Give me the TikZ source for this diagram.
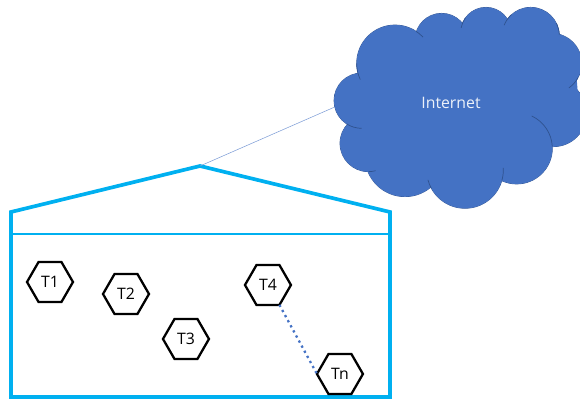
\documentclass[tikz,border=0pt]{standalone}
\usepackage{fontspec}
\setmainfont{Open Sans}
\usepackage{tikz}
\usetikzlibrary{shapes.geometric,positioning}
\definecolor{cloudblue}{HTML}{4472C4}
\definecolor{cloudedge}{HTML}{2F528F}
\definecolor{wallcyan}{HTML}{00B0F0}

\begin{document}
\begin{tikzpicture}[
    x=0.02cm, y=-0.02cm,
    tenant/.style={regular polygon, regular polygon sides=6, draw=black, line width=1.3pt, minimum size=0.92cm, inner sep=0pt, outer sep=0pt, font=\fontsize{9}{10}\selectfont},
    wall/.style={draw=wallcyan, line width=2.1pt},
    cloudarc/.style={draw=cloudedge, line width=0.4pt}
]
\path[use as bounding box] (0,0) rectangle (580,398);

% Cloud
\begin{scope}[shift={(320,0)}, x=0.00667cm, y=-0.00667cm]
\foreach \cx/\cy/\cr in {225/190/115, 365/120/80, 498/98/76, 632/108/86, 695/190/90, 700/340/100, 590/445/107, 435/510/115, 255/470/120, 145/430/85, 125/302/83}
    \draw[cloudarc] (\cx,\cy) circle[radius=\cr];
\foreach \cx/\cy/\cr in {225/190/115, 365/120/80, 498/98/76, 632/108/86, 695/190/90, 700/340/100, 590/445/107, 435/510/115, 255/470/120, 145/430/85, 125/302/83}
    \fill[cloudblue] (\cx,\cy) circle[radius=\cr];
\fill[cloudblue] (120,235) -- (85,375) -- (150,505) -- (330,560) -- (545,530) -- (695,435) -- (775,300) -- (770,235) -- (712,105) -- (555,72) -- (432,80) -- (295,95) -- cycle;
% Folds
\foreach \cx/\cy/\cr/\sa/\ea in {225/190/115/180/155, 225/190/115/-57/-43, 498/98/76/216/191, 632/108/86/228/202, 632/108/86/-27/-3, 695/190/90/28/55, 590/445/107/-65/-3, 435/510/115/-3/16, 435/510/115/151/165, 145/430/85/75/90, 125/302/83/123/90}
    \draw[cloudarc] (\cx,\cy) ++(\sa:\cr) arc[start angle=\sa, end angle=\ea, radius=\cr];
\coordinate (cloudL) at (42,322);
\end{scope}
\node[text=white!90!cloudblue, font=\fontsize{9}{10}\selectfont] (internet) at (451,103) {Internet};

% House
\coordinate (eaveL) at (11,212);
\coordinate (roof) at (200,166);
\coordinate (eaveR) at (390,212);
\coordinate (floorL) at (11,397);
\coordinate (floorR) at (390,397);
\coordinate (beamL) at (11,234);
\coordinate (beamR) at (390,234);
\draw[wall] (floorL) -- (eaveL) -- (roof) -- (eaveR) -- (floorR) -- cycle;
\draw[wall, line width=1.4pt] (beamL) -- (beamR);

% Uplink
\draw[cloudblue!70, line width=0.3pt] (roof) -- (cloudL);

% Tenants
\node[tenant] (T1) at (50,282) {T1};
\node[tenant, on grid, below right=0.24cm and 1.52cm of T1] (T2) {T2};
\node[tenant, on grid, below right=0.9cm and 1.2cm of T2] (T3) {T3};
\node[tenant, on grid, below right=0.06cm and 4.36cm of T1] (T4) {T4};
\node[tenant, on grid, below right=1.78cm and 1.44cm of T4] (Tn) {Tn};

\draw[cloudblue, line width=1.3pt, dotted] (T4.300) -- (Tn.180);

\end{tikzpicture}
\end{document}
